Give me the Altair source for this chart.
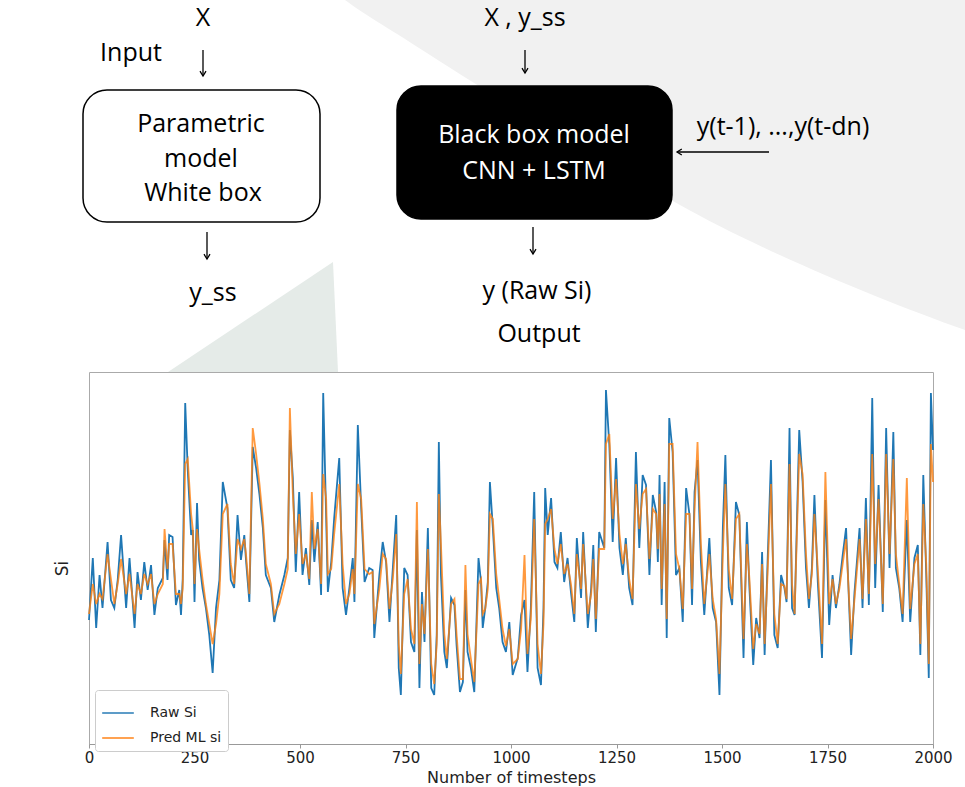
import altair as alt
import pandas as pd

# ---------------- data ----------------
timesteps = [0, 9, 17, 25, 32, 44, 52, 60, 68, 76,
             88, 96, 108, 115, 123, 131, 139, 147, 155, 163,
             175, 179, 186, 190, 198, 206, 214, 218, 222, 228,
             234, 242, 246, 250, 256, 261, 269, 277, 285, 293,
             301, 309, 317, 328, 336, 344, 352, 360, 368, 372,
             380, 388, 396, 404, 412, 419, 431, 439, 451, 463,
             471, 476, 483, 490, 498, 506, 514, 522, 528, 534,
             542, 550, 555, 562, 566, 574, 581, 593, 601, 609,
             617, 625, 629, 637, 645, 653, 664, 672, 676, 688,
             696, 704, 712, 720, 728, 734, 739, 747, 755, 763,
             771, 777, 783, 789, 795, 803, 811, 818, 824, 829,
             834, 842, 848, 858, 866, 871, 879, 886, 892, 897,
             905, 913, 923, 929, 933, 939, 945, 950, 957, 965,
             972, 980, 988, 996, 1004, 1016, 1024, 1032, 1039, 1047,
             1055, 1063, 1071, 1077, 1081, 1087, 1095, 1103, 1110, 1118,
             1126, 1134, 1142, 1150, 1156, 1166, 1171, 1182, 1190, 1195,
             1201, 1209, 1221, 1225, 1233, 1241, 1249, 1257, 1265, 1272,
             1280, 1288, 1296, 1304, 1312, 1320, 1328, 1336, 1344, 1348,
             1352, 1357, 1364, 1369, 1375, 1383, 1391, 1399, 1407, 1415,
             1423, 1429, 1435, 1442, 1450, 1458, 1470, 1478, 1486, 1494,
             1502, 1508, 1516, 1524, 1533, 1541, 1551, 1559, 1565, 1574,
             1581, 1589, 1595, 1601, 1608, 1616, 1624, 1632, 1640, 1648,
             1653, 1660, 1666, 1672, 1683, 1691, 1699, 1706, 1713, 1719,
             1727, 1737, 1745, 1754, 1762, 1770, 1778, 1786, 1794, 1806,
             1814, 1826, 1833, 1841, 1848, 1856, 1863, 1871, 1881, 1889,
             1897, 1906, 1912, 1920, 1928, 1938, 1946, 1956, 1964, 1970,
             1977, 1984, 1990, 1995, 2000]

raw_si = [0.124, 0.186, 0.116, 0.169, 0.136, 0.202, 0.144, 0.136, 0.164, 0.209,
          0.136, 0.186, 0.116, 0.172, 0.144, 0.182, 0.154, 0.179, 0.129, 0.156,
          0.166, 0.204, 0.164, 0.209, 0.207, 0.139, 0.154, 0.129, 0.164, 0.341,
          0.274, 0.209, 0.214, 0.142, 0.241, 0.184, 0.156, 0.136, 0.109, 0.071,
          0.136, 0.164, 0.262, 0.236, 0.164, 0.156, 0.229, 0.184, 0.209, 0.184,
          0.142, 0.297, 0.276, 0.249, 0.216, 0.169, 0.156, 0.122, 0.149, 0.169,
          0.186, 0.314, 0.266, 0.172, 0.252, 0.169, 0.196, 0.159, 0.224, 0.182,
          0.222, 0.149, 0.351, 0.226, 0.152, 0.182, 0.226, 0.286, 0.156, 0.129,
          0.156, 0.186, 0.142, 0.319, 0.236, 0.162, 0.176, 0.174, 0.106, 0.169,
          0.202, 0.182, 0.122, 0.176, 0.229, 0.076, 0.049, 0.176, 0.169, 0.102,
          0.092, 0.214, 0.056, 0.152, 0.102, 0.216, 0.056, 0.049, 0.109, 0.302,
          0.169, 0.092, 0.076, 0.146, 0.139, 0.099, 0.052, 0.062, 0.154, 0.092,
          0.076, 0.052, 0.186, 0.162, 0.116, 0.136, 0.162, 0.262, 0.216, 0.156,
          0.136, 0.102, 0.092, 0.122, 0.069, 0.086, 0.129, 0.144, 0.072, 0.136,
          0.252, 0.076, 0.059, 0.136, 0.256, 0.209, 0.246, 0.182, 0.176, 0.212,
          0.162, 0.186, 0.152, 0.122, 0.206, 0.146, 0.212, 0.116, 0.156, 0.199,
          0.112, 0.212, 0.196, 0.354, 0.299, 0.202, 0.286, 0.196, 0.169, 0.206,
          0.156, 0.139, 0.292, 0.196, 0.269, 0.259, 0.169, 0.249, 0.232, 0.182,
          0.269, 0.139, 0.262, 0.106, 0.326, 0.292, 0.169, 0.176, 0.122, 0.256,
          0.229, 0.139, 0.252, 0.284, 0.182, 0.129, 0.206, 0.136, 0.122, 0.049,
          0.216, 0.289, 0.156, 0.139, 0.242, 0.229, 0.086, 0.222, 0.156, 0.079,
          0.126, 0.106, 0.192, 0.089, 0.182, 0.284, 0.109, 0.096, 0.169, 0.156,
          0.142, 0.316, 0.136, 0.129, 0.314, 0.262, 0.176, 0.136, 0.176, 0.249,
          0.162, 0.086, 0.244, 0.119, 0.169, 0.136, 0.159, 0.189, 0.216, 0.089,
          0.152, 0.216, 0.136, 0.246, 0.139, 0.346, 0.156, 0.259, 0.132, 0.316,
          0.176, 0.312, 0.176, 0.156, 0.122, 0.224, 0.122, 0.186, 0.199, 0.089,
          0.269, 0.169, 0.066, 0.351, 0.294]

pred_si = [0.130, 0.160, 0.140, 0.150, 0.145, 0.190, 0.165, 0.140, 0.160, 0.185,
           0.150, 0.170, 0.130, 0.160, 0.150, 0.170, 0.160, 0.170, 0.140, 0.150,
           0.160, 0.215, 0.175, 0.200, 0.200, 0.150, 0.150, 0.140, 0.155, 0.280,
           0.285, 0.230, 0.215, 0.160, 0.215, 0.195, 0.165, 0.140, 0.120, 0.100,
           0.120, 0.150, 0.230, 0.240, 0.180, 0.160, 0.205, 0.195, 0.205, 0.190,
           0.150, 0.316, 0.290, 0.260, 0.225, 0.180, 0.160, 0.130, 0.140, 0.160,
           0.175, 0.336, 0.250, 0.190, 0.230, 0.180, 0.190, 0.165, 0.252, 0.195,
           0.215, 0.160, 0.270, 0.245, 0.170, 0.175, 0.210, 0.260, 0.180, 0.140,
           0.150, 0.175, 0.150, 0.260, 0.245, 0.175, 0.170, 0.172, 0.120, 0.155,
           0.190, 0.185, 0.135, 0.165, 0.210, 0.100, 0.070, 0.150, 0.165, 0.115,
           0.100, 0.242, 0.080, 0.140, 0.110, 0.195, 0.080, 0.060, 0.100, 0.250,
           0.200, 0.110, 0.085, 0.140, 0.145, 0.110, 0.065, 0.065, 0.179, 0.110,
           0.085, 0.062, 0.160, 0.165, 0.130, 0.135, 0.155, 0.230, 0.225, 0.170,
           0.145, 0.115, 0.098, 0.115, 0.080, 0.085, 0.115, 0.189, 0.090, 0.125,
           0.225, 0.100, 0.070, 0.120, 0.220, 0.225, 0.235, 0.195, 0.180, 0.200,
           0.170, 0.180, 0.160, 0.130, 0.190, 0.155, 0.200, 0.130, 0.150, 0.185,
           0.125, 0.195, 0.195, 0.300, 0.310, 0.225, 0.265, 0.210, 0.180, 0.200,
           0.165, 0.145, 0.260, 0.215, 0.250, 0.255, 0.185, 0.235, 0.230, 0.195,
           0.250, 0.155, 0.240, 0.125, 0.300, 0.300, 0.190, 0.175, 0.135, 0.230,
           0.230, 0.155, 0.235, 0.302, 0.200, 0.140, 0.190, 0.145, 0.125, 0.070,
           0.190, 0.260, 0.175, 0.145, 0.225, 0.230, 0.105, 0.200, 0.165, 0.095,
           0.120, 0.110, 0.180, 0.100, 0.170, 0.260, 0.130, 0.100, 0.160, 0.158,
           0.145, 0.280, 0.160, 0.130, 0.290, 0.270, 0.190, 0.145, 0.170, 0.230,
           0.175, 0.100, 0.272, 0.140, 0.165, 0.140, 0.155, 0.180, 0.205, 0.105,
           0.145, 0.205, 0.145, 0.225, 0.150, 0.290, 0.180, 0.245, 0.140, 0.290,
           0.190, 0.285, 0.190, 0.160, 0.130, 0.266, 0.135, 0.180, 0.190, 0.100,
           0.240, 0.180, 0.080, 0.300, 0.262]

series_names = ["Raw Si", "Pred ML si"]
series_colors = ["#1f77b4", "#ff7f0e"]
x_ticks = [0, 250, 500, 750, 1000, 1250, 1500, 1750, 2000]

assert len(timesteps) == len(raw_si) == len(pred_si)

n = len(timesteps)
df = pd.DataFrame({
    "t": timesteps + timesteps,
    "si": raw_si + pred_si,
    "series": [series_names[0]] * n + [series_names[1]] * n,
})

# ---------------- layout ----------------
PL, PT = 89, 372          # plot-area origin in the page
W, H = 844, 372
DIAG_FONT = "Open Sans"
AX_FONT = "DejaVu Sans"

color = alt.Color(
    "series:N",
    scale=alt.Scale(domain=series_names, range=series_colors),
    legend=alt.Legend(
        title=None, orient="none", legendX=6, legendY=318,
        symbolType="stroke", symbolSize=1000, symbolStrokeWidth=1.8,
        labelFont=AX_FONT, labelFontSize=14, labelColor="#222",
        padding=6, labelOffset=15, rowPadding=1,
        strokeColor="#cccccc", fillColor="white", cornerRadius=3,
    ),
)

base = alt.Chart(df).encode(
    x=alt.X("t:Q", scale=alt.Scale(domain=[0, 2000], nice=False),
            axis=alt.Axis(values=x_ticks, format="d", title="Number of timesteps",
                          grid=False, labelFlush=False,
                          labelFont=AX_FONT, labelFontSize=15, labelColor="#222",
                          titleFont=AX_FONT, titleFontSize=16, titleFontWeight="normal",
                          titleColor="#222", titlePadding=4, tickSize=4,
                          tickColor="#999", domainColor="#999", labelPadding=2)),
    y=alt.Y("si:Q", scale=alt.Scale(domain=[0, 0.372], nice=False, zero=False),
            axis=alt.Axis(title="Si", labels=False, ticks=False, domain=False, grid=False,
                          titleFont=AX_FONT, titleFontSize=17, titleFontWeight="normal",
                          titleColor="#222", titleX=-27, titleY=196,
                          titleBaseline="middle")),
    color=color,
)

raw_line = base.transform_filter(alt.datum.series == series_names[0]).mark_line(
    strokeWidth=1.8)
pred_line = base.transform_filter(alt.datum.series == series_names[1]).mark_line(
    strokeWidth=1.8, opacity=0.8)

one = alt.Data(values=[{"k": 0}])


def label(txt, X, Y, size=25, col="black", align="center"):
    return alt.Chart(one).mark_text(
        text=txt, font=DIAG_FONT, fontSize=size, color=col, align=align,
        baseline="middle").encode(x=alt.value(X - PL), y=alt.value(Y - PT))


def box(x1, y1, x2, y2, fill):
    return alt.Chart(one).mark_rect(
        fill=fill, stroke="black", strokeWidth=1.5, cornerRadius=24).encode(
        x=alt.value(x1 - PL), x2=alt.value(x2 - PL),
        y=alt.value(y1 - PT), y2=alt.value(y2 - PT))


def vline(X, y1, y2):
    return alt.Chart(one).mark_rule(color="black", strokeWidth=1.3).encode(
        x=alt.value(X - PL), y=alt.value(y1 - PT), y2=alt.value(y2 - PT))


def hline(x1, x2, Y):
    return alt.Chart(one).mark_rule(color="black", strokeWidth=1.3).encode(
        x=alt.value(x1 - PL), x2=alt.value(x2 - PL), y=alt.value(Y - PT))


DOWN = "M-1,-1.6L0,0L1,-1.6"
LEFT = "M1.6,-1L0,0L1.6,1"


def head(X, Y, shape):
    return alt.Chart(one).mark_point(
        shape=shape, filled=False, stroke="black", strokeWidth=1.3, size=36,
        opacity=1).encode(x=alt.value(X - PL), y=alt.value(Y - PT))


# faint watermark shapes of the page background (path in page pixels, size=4 -> scale 1)
def shade(path, fill):
    return alt.Chart(one).mark_point(
        shape=path, filled=True, fill=fill, stroke=None, strokeWidth=0, size=4,
        opacity=1).encode(x=alt.value(-PL), y=alt.value(-PT))


GRAY_ARC = ("M345,0 L965,0 L965,330 C880,300 760,250 680,205 "
            "C590,155 500,100 430,55 C395,32 365,15 345,0 Z")
WEDGE = "M168,372 L333,262 L338,372 Z"

background = [shade(GRAY_ARC, "#f1f1f1"), shade(WEDGE, "#e5ebe8")]

diagram = [
    box(83, 90, 320, 222, "white"),
    box(397, 86, 672, 219, "black"),
    label("X", 203, 18),
    label("Input", 131, 53),
    label("X , y_ss", 525, 18),
    label("Parametric", 201, 124),
    label("model", 201, 159),
    label("White box", 203, 193),
    label("Black box model", 534, 135, col="white"),
    label("CNN + LSTM", 534, 171, col="white"),
    label("y(t-1), ...,y(t-dn)", 783, 127),
    label("y_ss", 213, 293),
    label("y (Raw Si)", 537, 291),
    label("Output", 539, 334),
    vline(203, 50, 76), head(203, 76, DOWN),
    vline(525, 50, 73), head(525, 73, DOWN),
    vline(207, 232, 259), head(207, 259, DOWN),
    vline(533, 227, 254), head(533, 254, DOWN),
    hline(677, 769, 152), head(677, 152, LEFT),
]

chart = alt.layer(*background, raw_line, pred_line, *diagram).properties(
    width=W, height=H,
    autosize=alt.AutoSizeParams(type="none"),
    padding={"left": PL, "top": PT, "right": 965 - PL - W, "bottom": 787 - PT - H},
    background="white",
).configure_view(stroke="#aaaaaa", strokeWidth=1)

chart.save("out.html", embed_options={"renderer": "svg", "actions": False})
